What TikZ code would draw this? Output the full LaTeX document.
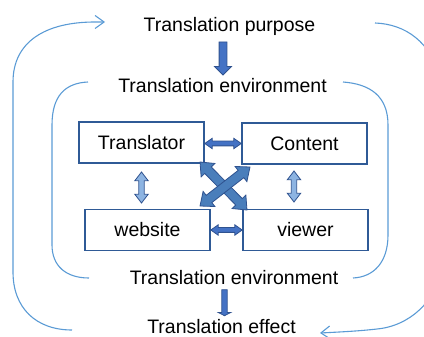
\documentclass[tikz,border=0pt]{standalone}
\usepackage{fontspec}
\setmainfont{Liberation Sans}
\usetikzlibrary{shapes.arrows,calc,arrows.meta}

\definecolor{boxline}{HTML}{2F5A96}
\definecolor{loopline}{HTML}{5B9BD5}
\definecolor{arrline}{HTML}{2F528F}
\definecolor{arrfill}{HTML}{4472C4}
\definecolor{crossfill}{HTML}{4A7EBB}
\definecolor{lightfill}{HTML}{8DB4E2}

\tikzset{
  lbl/.style={font=\fontsize{19.5}{22}\selectfont, inner sep=0pt, anchor=base},
  box/.style={draw=boxline, line width=1.6pt, minimum width=125pt, minimum height=41pt,
    inner sep=0pt, font=\fontsize{19.5}{22}\selectfont},
  loop/.style={draw=loopline, line width=1.1pt},
  % block arrow laid between two points: length and angle come from the end points
  blockarrow/.style={to path={let \p1=($(\tikztotarget)-(\tikztostart)$),
      \n1={atan2(\y1,\x1)}, \n2={veclen(\x1,\y1)} in
      ($(\tikztostart)!.5!(\tikztotarget)$)
      node[rotate=\n1, minimum height=\n2, inner xsep=0pt, draw=arrline,
           line width=0.8pt, #1] {}}},
}

\begin{document}
\begin{tikzpicture}[x=1pt,y=-1pt]
\useasboundingbox (0,0) rectangle (424,337);

% feedback loops
\begin{scope}
  \clip (0,0) rectangle (424,337);
  % outer loop
  \path[loop, -{Straight Barb[length=9pt,width=13pt]}]
    (72,330) .. controls (36,330) and (13,308) .. (13,272)
    -- (13,82) .. controls (13,42) and (45,22) .. (95,22) -- (105,22);
  \path[loop, -{Straight Barb[length=9pt,width=13pt]}]
    (375,23) .. controls (405,24) and (432,42) .. (440,80)
    -- (440,270) .. controls (437,300) and (410,326) .. (377,329)
    .. controls (360,331) and (340,332) .. (320,333);
  % inner loop
  \path[loop] (88,82) .. controls (65,83) and (52,96) .. (52,125)
    -- (52,245) .. controls (52,266) and (66,278) .. (89,278);
  \path[loop] (343,82) .. controls (370,84) and (388,96) .. (388,125)
    -- (388,235) .. controls (388,262) and (374,277) .. (353,278);
\end{scope}

% stage labels
\node[lbl] (purpose) at (229.5,32) {Translation purpose};
\node[lbl] (envtop)  at (222.5,93) {Translation environment};
\node[lbl] (envbot)  at (234,284) {Translation environment};
\node[lbl] (effect)  at (221.5,333.5) {Translation effect};

% participants
\node[box] (translator) at (141.5,142.5) {Translator};
\node[box] (content)    at (304.5,143.5) {Content};
\node[box] (website)    at (147.5,230)   {website};
\node[box] (viewer)     at (305.5,230)   {viewer};

% arrow end points
\coordinate (p1) at (223,40);
\coordinate (p2) at (223,73);
\coordinate (e1) at (224.5,289);
\coordinate (e2) at (224.5,315);
\coordinate (l1) at (141.5,172);
\coordinate (l2) at (141.5,203);
\coordinate (r1) at (294,171);
\coordinate (r2) at (294,202);
\coordinate (a1) at (200,162);
\coordinate (a2) at (247,210);
\coordinate (b1) at (250,167);
\coordinate (b2) at (200,206);

% flow between stages
\path (p1) to[blockarrow={single arrow, fill=arrfill, inner ysep=3.5pt,
  single arrow head extend=4.5pt, single arrow tip angle=90}] (p2);
\path (e1) to[blockarrow={single arrow, fill=arrfill, inner ysep=2.3pt,
  single arrow head extend=3.5pt, single arrow tip angle=125}] (e2);

% links between participants
\path (translator.east |- content.west) to[blockarrow={double arrow, fill=arrfill,
  inner ysep=2pt, double arrow head extend=2.8pt, double arrow tip angle=70}] (content.west);
\path (website.east) to[blockarrow={double arrow, fill=arrfill,
  inner ysep=2pt, double arrow head extend=2.8pt, double arrow tip angle=70}] (viewer.west);
\path (l1) to[blockarrow={double arrow, fill=lightfill,
  inner ysep=2.3pt, double arrow head extend=4pt, double arrow tip angle=75}] (l2);
\path (r1) to[blockarrow={double arrow, fill=lightfill,
  inner ysep=2.3pt, double arrow head extend=4pt, double arrow tip angle=75}] (r2);
\path (a1) to[blockarrow={double arrow, fill=crossfill,
  inner ysep=4.2pt, double arrow head extend=5pt, double arrow tip angle=80}] (a2);
\path (b1) to[blockarrow={double arrow, fill=crossfill,
  inner ysep=4.2pt, double arrow head extend=5pt, double arrow tip angle=80}] (b2);
\end{tikzpicture}
\end{document}
